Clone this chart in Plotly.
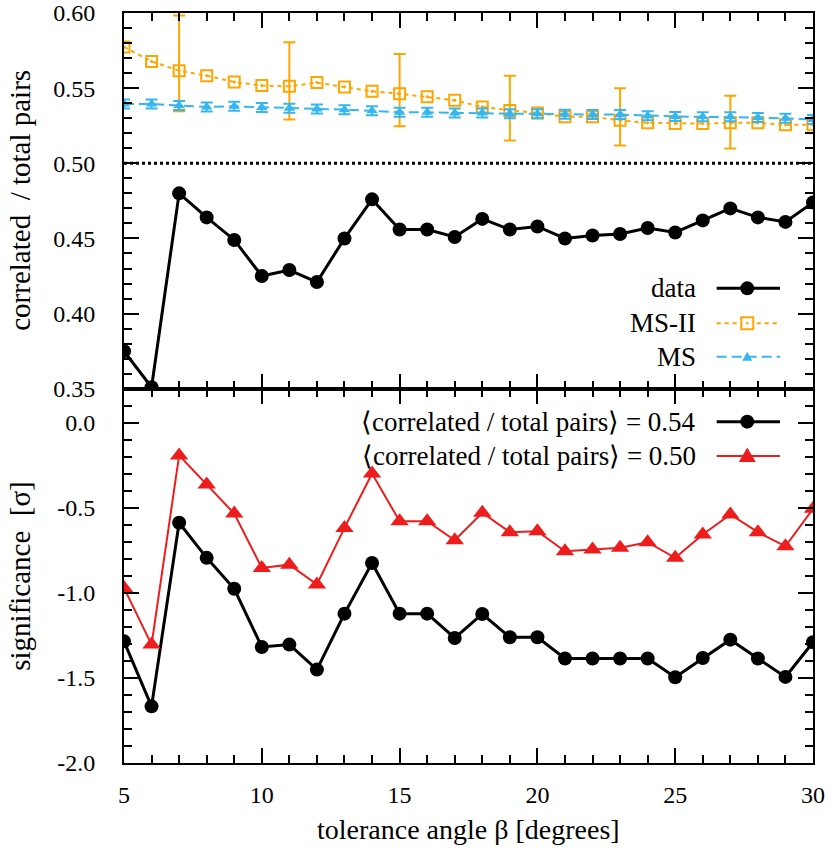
import plotly.graph_objects as go

# tolerance angle beta [degrees]
beta = list(range(5, 31))

# top panel: correlated / total pairs
data_ratio = [0.375, 0.351, 0.480, 0.464, 0.449, 0.425, 0.429, 0.421, 0.450, 0.476,
              0.456, 0.456, 0.451, 0.463, 0.456, 0.458, 0.450, 0.452, 0.453, 0.457,
              0.454, 0.462, 0.470, 0.464, 0.461, 0.474]
ms2_ratio = [0.5774, 0.5678, 0.5616, 0.5583, 0.5541, 0.5517, 0.5512, 0.5537, 0.5508, 0.5479,
             0.5463, 0.5443, 0.5419, 0.5375, 0.5352, 0.5335, 0.5309, 0.5309, 0.5286, 0.5269,
             0.5264, 0.5264, 0.5269, 0.5269, 0.5257, 0.5257]
ms_ratio = [0.5395, 0.5395, 0.5384, 0.5375, 0.5379, 0.5372, 0.5366, 0.5362, 0.5357, 0.5350,
            0.5339, 0.5339, 0.5335, 0.5335, 0.5330, 0.5330, 0.5326, 0.5324, 0.5324, 0.5317,
            0.5312, 0.5309, 0.5309, 0.5304, 0.5299, 0.5291]
ms_err = [0.003, 0.003, 0.003, 0.003, 0.003, 0.003, 0.003, 0.003, 0.003, 0.003,
          0.003, 0.003, 0.003, 0.003, 0.003, 0.003, 0.003, 0.003, 0.003, 0.003,
          0.003, 0.003, 0.003, 0.003, 0.003, 0.003]

# MS-II error bars (only every 4th angle)
ms2_err_beta = [7, 11, 15, 19, 23, 27]
ms2_err_high = [0.5984, 0.5805, 0.5727, 0.5583, 0.5499, 0.5450]
ms2_err_low = [0.5346, 0.5291, 0.5246, 0.5151, 0.5118, 0.5098]

# bottom panel: significance [sigma]
sig_054 = [-1.285, -1.667, -0.588, -0.794, -0.976, -1.318, -1.304, -1.451, -1.122, -0.824,
           -1.122, -1.122, -1.265, -1.124, -1.261, -1.261, -1.386, -1.386, -1.386, -1.386,
           -1.496, -1.383, -1.275, -1.386, -1.494, -1.290]
sig_050 = [-0.971, -1.304, -0.192, -0.363, -0.534, -0.853, -0.834, -0.951, -0.618, -0.298,
           -0.579, -0.579, -0.691, -0.529, -0.643, -0.637, -0.755, -0.745, -0.735, -0.702,
           -0.794, -0.657, -0.539, -0.643, -0.726, -0.506]

beta_ticks = [5, 10, 15, 20, 25, 30]
ratio_ticks = [0.35, 0.40, 0.45, 0.50, 0.55, 0.60]
sig_ticks = [-2.0, -1.5, -1.0, -0.5, 0.0]

FONT = "Liberation Serif"
ORANGE = "#FFA500"
BLUE = "#35B6F0"
RED = "#EE1D1D"

# error bar centres taken from the MS-II series
ms2_err_mid = [ms2_ratio[beta.index(b)] for b in ms2_err_beta]
ms2_plus = [h - m for h, m in zip(ms2_err_high, ms2_err_mid)]
ms2_minus = [m - l for l, m in zip(ms2_err_low, ms2_err_mid)]

fig = go.Figure()

fig.add_trace(go.Scatter(x=beta, y=data_ratio, xaxis="x2", yaxis="y2", mode="lines+markers",
                         line=dict(color="black", width=3), marker=dict(color="black", size=14)))
fig.add_trace(go.Scatter(x=beta, y=ms2_ratio, xaxis="x2", yaxis="y2", mode="lines+markers",
                         line=dict(color=ORANGE, width=2, dash="4px,4px"),
                         marker=dict(symbol="square-open-dot", size=11, color=ORANGE,
                                     line=dict(color=ORANGE, width=2))))
fig.add_trace(go.Scatter(x=ms2_err_beta, y=ms2_err_mid, xaxis="x2", yaxis="y2", mode="markers",
                         marker=dict(size=1, color="rgba(0,0,0,0)"),
                         error_y=dict(type="data", symmetric=False, array=ms2_plus, arrayminus=ms2_minus,
                                      color=ORANGE, thickness=2, width=6)))
fig.add_trace(go.Scatter(x=beta, y=ms_ratio, xaxis="x2", yaxis="y2", mode="lines+markers",
                         line=dict(color=BLUE, width=2, dash="10px,5px"),
                         marker=dict(symbol="triangle-up", size=10, color=BLUE),
                         error_y=dict(type="data", array=ms_err, color=BLUE, thickness=2, width=6)))

fig.add_trace(go.Scatter(x=beta, y=sig_054, mode="lines+markers",
                         line=dict(color="black", width=3), marker=dict(color="black", size=14)))
fig.add_trace(go.Scatter(x=beta, y=sig_050, mode="lines+markers",
                         line=dict(color=RED, width=2), marker=dict(symbol="triangle-up", color=RED, size=16)))

axis_style = dict(showline=True, linecolor="black", linewidth=2, mirror="ticks",
                  ticks="inside", ticklen=15, tickwidth=2, tickcolor="black",
                  showgrid=False, zeroline=False, automargin=False, ticklabeloverflow="allow",
                  tickfont=dict(family=FONT, size=24, color="black"))
minor_style = dict(ticks="inside", ticklen=8, tickwidth=2, tickcolor="black")

fig.update_layout(
    width=830, height=854,
    margin=dict(l=124, r=17, t=13, b=91, autoexpand=False),
    plot_bgcolor="white", paper_bgcolor="white",
    showlegend=False,
    font=dict(family=FONT, color="black"),
    xaxis=dict(axis_style, anchor="y", domain=[0, 1], range=[5, 30],
               tickmode="array", tickvals=beta_ticks, ticktext=[str(t) for t in beta_ticks],
               ticklabelstandoff=9, minor=dict(minor_style, dtick=1, tick0=5)),
    xaxis2=dict(axis_style, anchor="y2", matches="x", showticklabels=False,
                tickmode="array", tickvals=beta_ticks, minor=dict(minor_style, dtick=1, tick0=5)),
    yaxis=dict(axis_style, domain=[0, 0.499], range=[-2.0, 0.2],
               tickmode="array", tickvals=sig_ticks, ticktext=[f"{t:.1f}" for t in sig_ticks],
               ticklabelstandoff=22, minor=dict(minor_style, dtick=0.1, tick0=0)),
    yaxis2=dict(axis_style, domain=[0.499, 1], range=[0.35, 0.60],
                tickmode="array", tickvals=ratio_ticks, ticktext=[f"{t:.2f}" for t in ratio_ticks],
                ticklabelstandoff=22, minor=dict(minor_style, dtick=0.01, tick0=0.35)),
)

fig.add_shape(type="line", xref="x2 domain", yref="y2", x0=0, x1=1, y0=0.5, y1=0.5,
              line=dict(color="black", width=3, dash="dot"))

title_font = dict(family=FONT, size=28, color="black")
ytitle_font = dict(family=FONT, size=29, color="black")
key_font = dict(family=FONT, size=27, color="black")
fig.add_annotation(text="correlated \u00a0/ total pairs", xref="paper", yref="paper",
                   x=-0.152, y=0.75, xanchor="center", yanchor="middle",
                   textangle=-90, showarrow=False, font=ytitle_font)
fig.add_annotation(text="significance \u00a0[σ]", xref="paper", yref="paper",
                   x=-0.152, y=0.25, xanchor="center", yanchor="middle",
                   textangle=-90, showarrow=False, font=ytitle_font)
fig.add_annotation(text="tolerance angle β [degrees]", xref="paper", yref="paper",
                   x=0.5, y=0, yshift=-66, xanchor="center", yanchor="middle",
                   showarrow=False, font=title_font)

# gnuplot-style keys: text right aligned, sample to the right
key_text_x = 0.8335
key_x0, key_x1, key_mx = 0.8602, 0.9521, 0.9046
keys = [
    ("data", 0.6329, "black", 3, "solid", "circle"),
    ("MS-II", 0.5863, ORANGE, 2, "4px,4px", "square"),
    ("MS", 0.5417, BLUE, 2, "10px,5px", "small-triangle"),
    ("⟨correlated / total pairs⟩ = 0.54", 0.4551, "black", 3, "solid", "circle"),
    ("⟨correlated / total pairs⟩ = 0.50", 0.4093, RED, 2, "solid", "triangle"),
]
for label, ky, color, lw, dash, sym in keys:
    fig.add_annotation(text=label, xref="paper", yref="paper", x=key_text_x, y=ky,
                       xanchor="right", yanchor="middle", showarrow=False, font=key_font)
    fig.add_shape(type="line", xref="paper", yref="paper", x0=key_x0, x1=key_x1, y0=ky, y1=ky,
                  line=dict(color=color, width=lw, dash=dash))
    marker_shape = dict(xref="paper", yref="paper", xsizemode="pixel", ysizemode="pixel",
                        xanchor=key_mx, yanchor=ky)
    if sym == "circle":
        fig.add_shape(type="circle", x0=-7, x1=7, y0=-7, y1=7, fillcolor=color,
                      line=dict(width=0), **marker_shape)
    elif sym == "square":
        fig.add_shape(type="rect", x0=-6, x1=6, y0=-6, y1=6, fillcolor="white",
                      line=dict(color=color, width=2), **marker_shape)
        fig.add_shape(type="circle", x0=-1.3, x1=1.3, y0=-1.3, y1=1.3, fillcolor=color,
                      line=dict(width=0), **marker_shape)
    elif sym == "small-triangle":
        fig.add_shape(type="path", path="M -5,-4 L 5,-4 L 0,5 Z", fillcolor=color,
                      line=dict(width=0), **marker_shape)
    else:
        fig.add_shape(type="path", path="M -8.5,-6 L 8.5,-6 L 0,8.5 Z", fillcolor=color,
                      line=dict(width=0), **marker_shape)

# drop the default page margin so the figure sits at the window's top-left corner
fig.write_html("out.html", config={"displayModeBar": False},
               post_script="document.body.style.margin = '0';")
